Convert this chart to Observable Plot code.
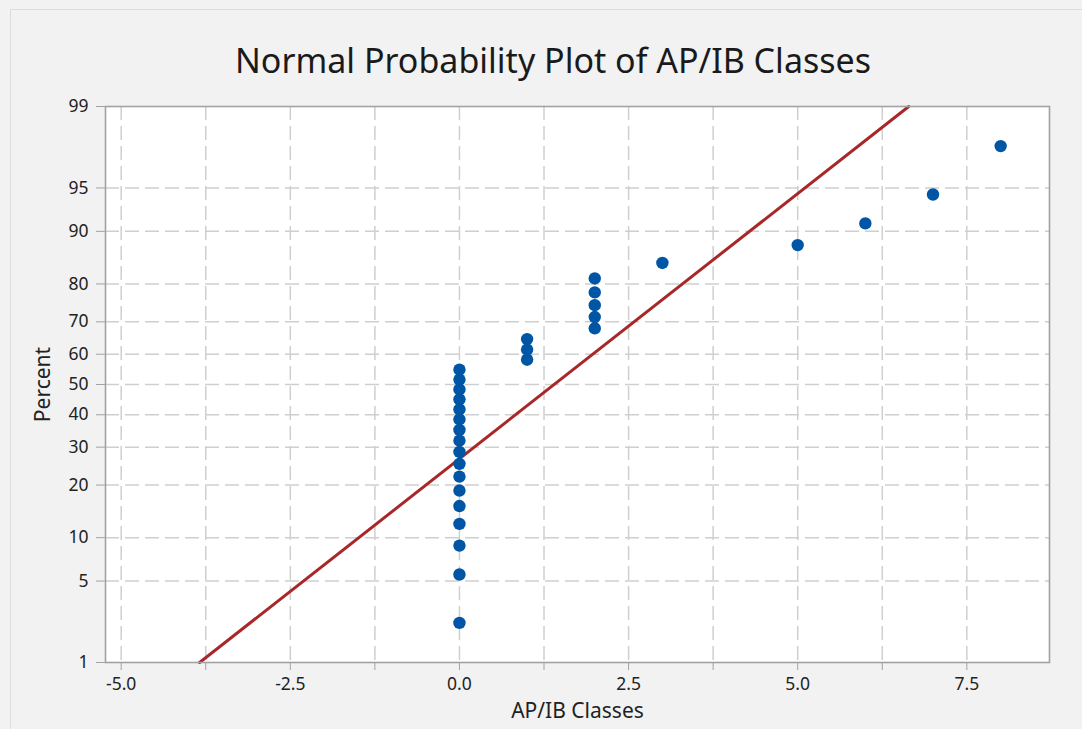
<!DOCTYPE html>
<html>
<head>
<meta charset="utf-8">
<script src="https://cdn.jsdelivr.net/npm/d3@7"></script>
<script src="https://cdn.jsdelivr.net/npm/@observablehq/plot@0.6"></script>
<style>
  html, body { margin: 0; padding: 0; background: #f2f2f2; }
  #wrap { position: relative; width: 1082px; height: 729px; background: #f2f2f2; overflow: hidden; }
  #border { position: absolute; left: 10px; top: 9px; right: -2px; bottom: -2px; border-left: 1px solid #dcdcdc; border-top: 1px solid #dcdcdc; }
  #title { position: absolute; left: 0; width: 1106px; top: 37px; text-align: center; font-family: "Noto Sans", sans-serif; font-size: 34px; color: #1a1a1a; }
  #chart { position: absolute; left: 0; top: 0; }
  #chart svg text { font-size: 17.5px; }
  #chart svg g[aria-label="y-axis label"] text, #chart svg g[aria-label="x-axis label"] text { font-size: 21px; }
</style>
</head>
<body>
<div id="wrap">
  <div id="border"></div>
  <div id="title">Normal Probability Plot of AP/IB Classes</div>
  <div id="chart"></div>
</div>
<script>
// Observed values (AP/IB classes taken), n = 30
const classValues = [0,0,0,0,0,0,0,0,0,0,0,0,0,0,0,0,0, 1,1,1, 2,2,2,2,2, 3, 5, 6, 7, 8];
// Probability (percent) axis ticks
const percentTicks = [1, 5, 10, 20, 30, 40, 50, 60, 70, 80, 90, 95, 99];
// X axis ticks (labelled) and grid step
const xLabelTicks = [-5, -2.5, 0, 2.5, 5, 7.5];
const xGridTicks = [-5, -3.75, -2.5, -1.25, 0, 1.25, 2.5, 3.75, 5, 6.25, 7.5];

// Inverse standard normal CDF (Acklam)
function probit(p) {
  const a = [-3.969683028665376e+01, 2.209460984245205e+02, -2.759285104469687e+02, 1.383577518672690e+02, -3.066479806614716e+01, 2.506628277459239e+00];
  const b = [-5.447609879822406e+01, 1.615858368580409e+02, -1.556989798598866e+02, 6.680131188771972e+01, -1.328068155288572e+01];
  const c = [-7.784894002430293e-03, -3.223964580411365e-01, -2.400758277161838e+00, -2.549732539343734e+00, 4.374664141464968e+00, 2.938163982698783e+00];
  const d = [7.784695709041462e-03, 3.224671290700398e-01, 2.445134137142996e+00, 3.754408661907416e+00];
  const pl = 0.02425, ph = 1 - pl;
  let q, r;
  if (p < pl) { q = Math.sqrt(-2 * Math.log(p)); return (((((c[0]*q+c[1])*q+c[2])*q+c[3])*q+c[4])*q+c[5]) / ((((d[0]*q+d[1])*q+d[2])*q+d[3])*q+1); }
  if (p <= ph) { q = p - 0.5; r = q*q; return (((((a[0]*r+a[1])*r+a[2])*r+a[3])*r+a[4])*r+a[5])*q / (((((b[0]*r+b[1])*r+b[2])*r+b[3])*r+b[4])*r+1); }
  q = Math.sqrt(-2 * Math.log(1 - p)); return -(((((c[0]*q+c[1])*q+c[2])*q+c[3])*q+c[4])*q+c[5]) / ((((d[0]*q+d[1])*q+d[2])*q+d[3])*q+1);
}

// Median ranks (Benard) for plotting positions
const n = classValues.length;
const sorted = classValues.slice().sort((a, b) => a - b);
const points = sorted.map((v, i) => ({ x: v, pct: 100 * (i + 1 - 0.3) / (n + 0.4) }));
points.forEach(p => p.z = probit(p.pct / 100));

// Fitted normal line
const mean = d3.mean(classValues);
const sd = d3.deviation(classValues);
const zLo = probit(0.01), zHi = probit(0.99);
const fitLine = [zLo, zHi].map(z => ({ x: mean + sd * z, z }));

const zTicks = percentTicks.map(p => probit(p / 100));
const gridZ = zTicks.slice(1, -1);

const fmtX = v => (v < 0 ? "-" : "") + Math.abs(v).toFixed(1);

const chart = Plot.plot({
  width: 1082,
  height: 729,
  marginLeft: 105,
  marginRight: 33,
  marginTop: 106,
  marginBottom: 67,
  style: { background: "transparent", fontFamily: "'Noto Sans', sans-serif", fontSize: "17.5px", color: "#222" },
  x: { domain: [-5.232, 8.722] },
  y: { domain: [zLo, zHi] },
  marks: [
    Plot.frame({ fill: "white", stroke: "none" }),
    Plot.ruleY(gridZ, { stroke: "#cfcfcf", strokeWidth: 1.5, strokeDasharray: "14,6" }),
    Plot.ruleX(xGridTicks, { stroke: "#cfcfcf", strokeWidth: 1.5, strokeDasharray: "14,6" }),
    Plot.line(fitLine, { x: "x", y: "z", stroke: "#a8282a", strokeWidth: 3 }),
    Plot.dot(points, { x: "x", y: "z", r: 6.2, fill: "#0055a5", stroke: "none" }),
    Plot.frame({ stroke: "#a2a2a2", strokeWidth: 1.6 }),
    Plot.axisY(zTicks, {
      tickFormat: (d, i) => String(percentTicks[i]),
      tickSize: 9, tickPadding: 8, stroke: "#a2a2a2", fill: "#222", fontSize: 17.5,
      label: "Percent", labelAnchor: "center", labelOffset: 70, labelArrow: "none"
    }),
    Plot.axisX(xGridTicks, {
      tickFormat: d => (xLabelTicks.includes(d) ? fmtX(d) : ""),
      tickSize: 8, tickPadding: 7, stroke: "#a2a2a2", fill: "#222", fontSize: 17.5,
      label: "AP/IB Classes", labelAnchor: "center", labelOffset: 55, labelArrow: "none"
    })
  ]
});

document.getElementById("chart").appendChild(chart);
</script>
</body>
</html>
